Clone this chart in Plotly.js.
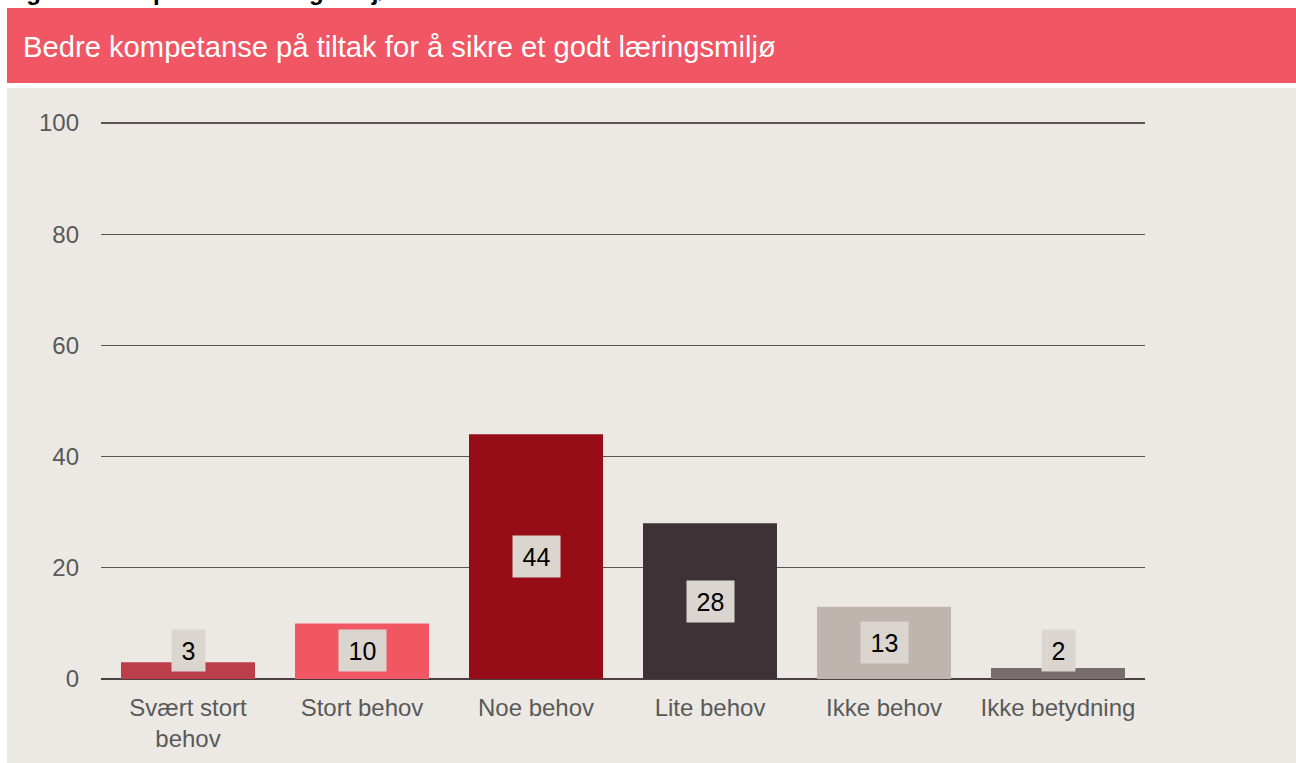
<!DOCTYPE html>
<html><head><meta charset="utf-8">
<script src="https://cdn.plot.ly/plotly-3.0.1.min.js"></script>
<style>html,body{margin:0;padding:0;background:#fff}#chart{width:1296px;height:763px}</style>
</head><body><div id="chart"></div>
<script>
const categories = ["Svært stort<br>behov", "Stort behov", "Noe behov", "Lite behov", "Ikke behov", "Ikke betydning"];
const values = [3, 10, 44, 28, 13, 2];
const barColors = ["#bb3e4a", "#f15663", "#960d18", "#3e3236", "#bfb4ae", "#776c6e"];
const yTicks = [0, 20, 40, 60, 80, 100];
const figTitle = "Figur 2: Kompetanse læringsmiljø";
const bannerText = "Bedre kompetanse på tiltak for å sikre et godt læringsmiljø";

const W = 1296, H = 763;
const px = x => x / W;
const py = y => (H - y) / H;
const FONT = 'Liberation Sans, Arial, sans-serif';
const yMax = 102;

const labelMin = 5.2;
const annotations = values.map((v, i) => ({
  x: categories[i], y: Math.max(v / 2, labelMin), xref: 'x', yref: 'y',
  text: String(v), showarrow: false,
  font: {family: FONT, size: 25, color: '#000'},
  bgcolor: '#dbd5cf', width: String(v).length * 14 + 17, height: 39,
  xanchor: 'center', yanchor: 'middle'
}));
annotations.push({
  x: px(4), y: py(6), xref: 'paper', yref: 'paper', xanchor: 'left', yanchor: 'bottom',
  text: '<b>' + figTitle + '</b>', showarrow: false, borderpad: 0,
  font: {family: FONT, size: 24, color: '#000'}
});
annotations.push({
  x: px(21), y: py(47), xref: 'paper', yref: 'paper', xanchor: 'left', yanchor: 'middle',
  text: bannerText, showarrow: false,
  font: {family: FONT, size: 29.2, color: '#fff'}
});

const data = [{
  type: 'bar', x: categories, y: values,
  marker: {color: barColors, line: {width: 0}},
  hoverinfo: 'none'
}];

const layout = {
  width: W, height: H,
  margin: {l: 0, r: 0, t: 0, b: 0},
  paper_bgcolor: '#ffffff', plot_bgcolor: 'rgba(0,0,0,0)',
  showlegend: false, bargap: 0.23,
  font: {family: FONT, size: 24, color: '#595959'},
  xaxis: {
    domain: [px(101), px(1145)], type: 'category',
    showgrid: false, zeroline: false, showline: false, ticks: '',
    tickfont: {size: 24, color: '#595959'}, automargin: false, ticklabelstandoff: 12
  },
  yaxis: {
    domain: [py(679), py(679 - 556 * yMax / 100)], range: [0, yMax], tickvals: yTicks,
    showgrid: true, gridcolor: '#5e5456', gridwidth: 1.3,
    zeroline: true, zerolinecolor: '#4a4042', zerolinewidth: 2,
    showline: false, ticks: '', automargin: false, ticklabelstandoff: 21,
    tickfont: {size: 24, color: '#595959'}
  },
  shapes: [
    {type: 'rect', xref: 'paper', yref: 'paper', x0: px(7), x1: 1, y0: 0, y1: py(88), fillcolor: '#ece9e4', line: {width: 0}, layer: 'below'},
    {type: 'rect', xref: 'paper', yref: 'paper', x0: px(7), x1: 1, y0: py(83), y1: py(8), fillcolor: '#f05664', line: {width: 0}, layer: 'below'}
  ],
  annotations: annotations
};
Plotly.newPlot('chart', data, layout, {displayModeBar: false, staticPlot: true});
</script></body></html>
